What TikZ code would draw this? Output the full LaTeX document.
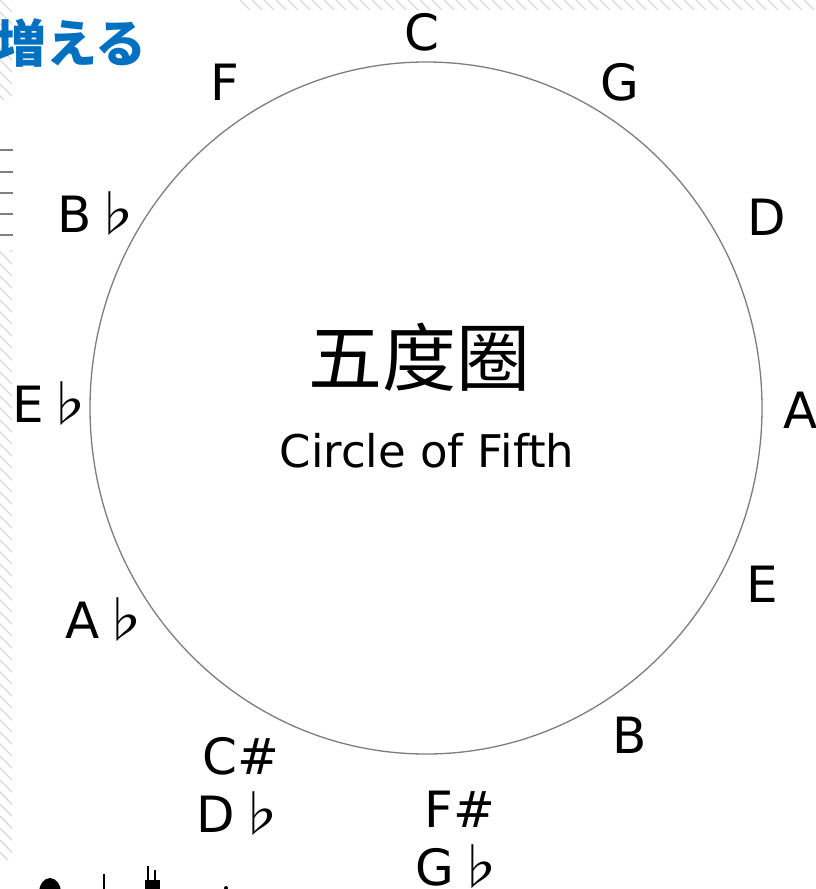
\documentclass[tikz,border=0pt]{standalone}
\usepackage{fontspec}
\setmainfont{DejaVu Sans}
\newfontfamily\zhfont{Noto Sans CJK SC}
\newfontfamily\jpfont{Noto Sans CJK JP}
\newcommand{\flt}{{\jpfont ♭}}
\definecolor{hatchgray}{RGB}{218,218,218}
\definecolor{ringgray}{RGB}{125,125,125}
\definecolor{titleblue}{RGB}{0,112,192}

\begin{document}
\begin{tikzpicture}[x=1pt,y=-1pt]
      \tikzstyle{key}=[font=\fontsize{50}{58}\selectfont,inner sep=0pt,anchor=base]
      \tikzstyle{pair}=[key,align=center]
      \tikzstyle{bluetext}=[titleblue,inner sep=0pt,font=\jpfont\bfseries\fontsize{51}{51}\selectfont]
      \useasboundingbox[fill=white] (0,0) rectangle (815,889);
      % hatched edges of the screenshot
      \begin{scope}
        \clip (240,0) rectangle (815,10) (0,0) rectangle (12,100) (0,250) rectangle (12,860);
        \foreach \i in {-900,-888,...,816}
          \path[draw,hatchgray,line width=1.4pt] (\i,0) -- ++(900,900);
      \end{scope}
      \node[bluetext,anchor=base west] (T) at (-5,62) {増える};
      \node[bluetext,anchor=base east] (T0) at (T.base west) {が};
      \foreach \y in {150,172,193,214,235}
        \path[draw,gray,line width=1.5pt] (0,\y) -- (13,\y);
      % the circle
      \coordinate (O) at (426,408);
      \path[draw,ringgray,line width=1.3pt] (O) ellipse [x radius=336pt,y radius=346pt];
      \node[inner sep=0pt,font=\zhfont\fontsize{74}{74}\selectfont] (H) at (419,357) {五度圈};
      \node[inner sep=0pt,anchor=base,font=\fontsize{45}{45}\selectfont] (S) at (427,467) {Circle of Fifth};
      \node[key] (C) at (422,50) {C};
      \node[key] (G) at (620,100) {G};
      \node[key] (D) at (767,235) {D};
      \node[key,anchor=base west] (A) at (783,428) {A};
      \node[key] (E) at (762,602) {E};
      \node[key] (B) at (630,753) {B};
      \node[pair] (Fs) at (460,885) {F\#\\G\flt};
      \node[pair] (Cs) at (241,832) {C\#\\D\flt};
      \node[key,anchor=base west] (Ab) at (65,638) {A\flt};
      \node[key,anchor=base west] (Eb) at (12,422) {E\flt};
      \node[key,anchor=base west] (Bb) at (57,232) {B\flt};
      \node[key] (F) at (225,100) {F};
      % cut-off notes at the bottom
      \path[fill] (50,893) ellipse [x radius=11pt,y radius=15pt];
      \path[draw,line width=2pt] (104,874) -- (104,889);
      \path[draw,line width=2pt] (148,866) -- (148,889);
      \path[draw,line width=2pt] (155,870) -- (155,889);
      \path[fill] (145,880) rectangle (160,889);
      \path[fill] (226,888) circle (2);
\end{tikzpicture}
\end{document}
